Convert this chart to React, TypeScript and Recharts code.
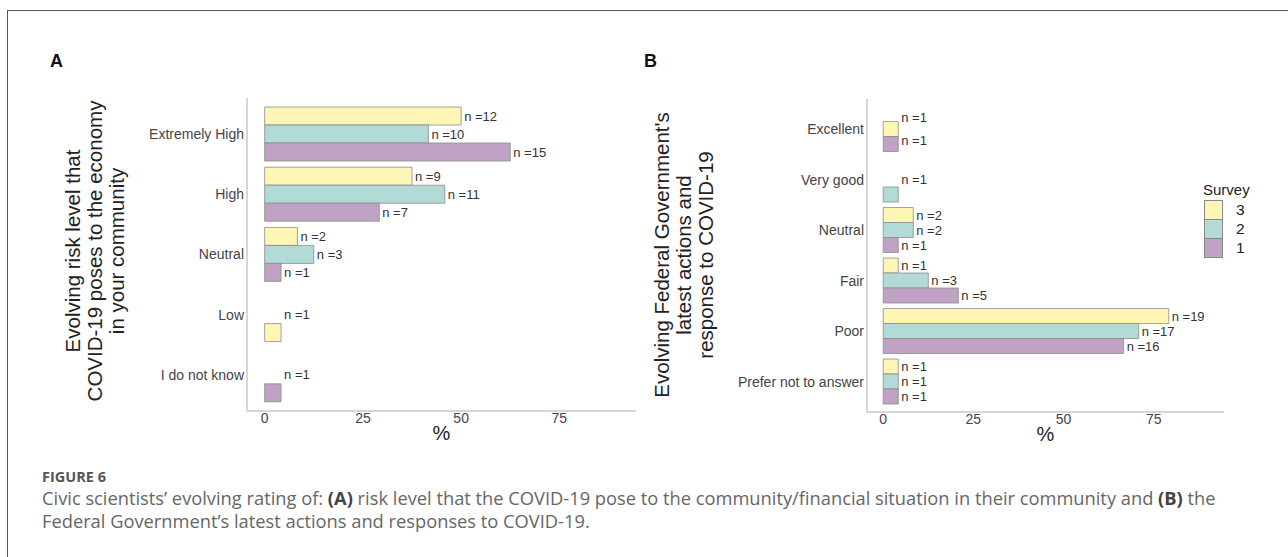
import React from 'react';
import { BarChart, Bar, Cell, XAxis, YAxis, LabelList } from 'recharts';

// ---------- data (counts per survey, null = no answer in that survey) ----------
const SURVEYS = [3, 2, 1];
const SURVEY_COLORS: Record<number, string> = { 3: '#FFF5B4', 2: '#B2DAD6', 1: '#C0A2C4' };
const SURVEY_TOTALS: Record<number, number> = { 3: 24, 2: 24, 1: 24 };

const RISK_CATS = ['Extremely High', 'High', 'Neutral', 'Low', 'I do not know'];
const RISK_S3 = [12, 9, 2, 1, null];
const RISK_S2 = [10, 11, 3, null, null];
const RISK_S1 = [15, 7, 1, null, 1];

const GOV_CATS = ['Excellent', 'Very good', 'Neutral', 'Fair', 'Poor', 'Prefer not to answer'];
const GOV_S3 = [1, null, 2, 1, 19, 1];
const GOV_S2 = [null, 1, 2, 3, 17, 1];
const GOV_S1 = [1, null, 1, 5, 16, 1];

const X_TICKS = [0, 25, 50, 75];
const X_DOMAIN = [-4.5, 94.5];

// ggplot dodge with preserve="single": present bars fill the slots from the bottom
const buildRows = (cats: string[], bySurvey: Record<number, (number | null)[]>) =>
  cats.map((name, i) => {
    const present = SURVEYS.filter((s) => bySurvey[s][i] != null);
    const k = present.length;
    const row: any = { name };
    for (let j = 0; j < 3; j++) {
      const idx = j - (3 - k);
      if (idx >= 0) {
        const s = present[idx];
        const n = bySurvey[s][i] as number;
        row[`v${j}`] = (n / SURVEY_TOTALS[s]) * 100;
        row[`c${j}`] = SURVEY_COLORS[s];
        row[`l${j}`] = { n, r: idx, k };
      } else {
        row[`v${j}`] = null;
        row[`l${j}`] = null;
      }
    }
    return row;
  });

const riskRows = buildRows(RISK_CATS, { 3: RISK_S3, 2: RISK_S2, 1: RISK_S1 });
const govRows = buildRows(GOV_CATS, { 3: GOV_S3, 2: GOV_S2, 1: GOV_S1 });

const FONT = '"Liberation Sans", Arial, sans-serif';
const AXIS_COLOR = '#c8c8c8';
const TEXT_COLOR = '#444';

// text labels are dodged over the bars that exist (ggplot geom_text + position_dodge)
const makeLabel = (slot: number) => (p: any) => {
  const info = p.value;
  if (info == null || typeof info !== 'object') return null;
  const vb = p.viewBox && p.viewBox.height != null ? p.viewBox : p;
  const h = vb.height;
  const catCenter = vb.y + h / 2 - (slot - 1) * h;
  const ly = catCenter + (info.r - (info.k - 1) / 2) * ((3 * h) / info.k);
  return (
    <text x={vb.x + vb.width + 3} y={ly} dy="0.35em" fontSize={13} fill="#333" fontFamily={FONT}>
      {`n =${info.n}`}
    </text>
  );
};

const Panel = ({ rows, width, height, margin, yWidth, pad }: any) => (
  <BarChart
    width={width}
    height={height}
    data={rows}
    layout="vertical"
    margin={margin}
    barCategoryGap="5%"
    barGap={0}
  >
    <XAxis
      type="number"
      domain={X_DOMAIN}
      ticks={X_TICKS}
      allowDataOverflow
      height={40}
      tickLine={false}
      tickSize={0}
      tickMargin={2}
      axisLine={{ stroke: AXIS_COLOR, strokeWidth: 1.5 }}
      tick={{ fill: TEXT_COLOR, fontSize: 14 }}
      label={{ value: '%', position: 'insideBottom', offset: 11, fontSize: 20, fill: '#222' }}
    />
    <YAxis
      type="category"
      dataKey="name"
      width={yWidth}
      interval={0}
      tickLine={false}
      tickSize={0}
      tickMargin={3}
      padding={{ top: pad, bottom: pad }}
      axisLine={{ stroke: AXIS_COLOR, strokeWidth: 1.5 }}
      tick={{ fill: TEXT_COLOR, fontSize: 14 }}
    />
    {[0, 1, 2].map((slot) => (
      <Bar
        key={slot}
        dataKey={`v${slot}`}
        isAnimationActive={false}
        stroke="#8c8c8c"
        strokeWidth={0.8}
      >
        {rows.map((r: any, i: number) => (
          <Cell key={i} fill={r[`c${slot}`] || 'none'} />
        ))}
        <LabelList dataKey={(r: any) => r[`l${slot}`]} content={makeLabel(slot)} />
      </Bar>
    ))}
  </BarChart>
);

const axisTitle = (lines: string[], cx: number, cy: number) => (
  <div
    style={{
      position: 'absolute',
      left: cx - 200,
      top: cy - 40,
      width: 400,
      height: 80,
      display: 'flex',
      flexDirection: 'column',
      justifyContent: 'center',
      alignItems: 'center',
      transform: 'rotate(-90deg)',
      fontSize: 20.5,
      lineHeight: '22px',
      color: '#222',
      whiteSpace: 'nowrap',
    }}
  >
    {lines.map((l) => (
      <div key={l}>{l}</div>
    ))}
  </div>
);

export default function App() {
  return (
    <div
      style={{
        position: 'absolute',
        left: 0,
        top: 0,
        width: 1288,
        height: 557,
        background: '#fff',
        fontFamily: FONT,
        overflow: 'hidden',
      }}
    >
      {/* frame */}
      <div
        style={{
          position: 'absolute',
          left: 7,
          top: 10,
          width: 1300,
          height: 560,
          borderTop: '1.5px solid #555',
          borderLeft: '1.5px solid #555',
        }}
      />

      <div style={{ position: 'absolute', left: 50, top: 51, fontSize: 18, fontWeight: 'bold', color: '#111' }}>A</div>
      <div style={{ position: 'absolute', left: 644, top: 51, fontSize: 18, fontWeight: 'bold', color: '#111' }}>B</div>

      <div style={{ position: 'absolute', left: 0, top: 0 }}>
        <Panel rows={riskRows} width={640} height={460} margin={{ top: 98, right: 4, bottom: 9, left: 117 }} yWidth={130} pad={6} />
      </div>
      <div style={{ position: 'absolute', left: 640, top: 0 }}>
        <Panel rows={govRows} width={648} height={460} margin={{ top: 99, right: 64, bottom: 8, left: 77 }} yWidth={150} pad={5} />
      </div>

      {axisTitle(['Evolving risk level that', 'COVID-19 poses to the economy', 'in your community'], 95, 251)}
      {axisTitle(["Evolving Federal Government's", 'latest actions and', 'response to COVID-19'], 684, 255)}

      {/* legend */}
      <div style={{ position: 'absolute', left: 1203, top: 180, color: '#222' }}>
        <div style={{ fontSize: 15, lineHeight: '20px' }}>Survey</div>
        {SURVEYS.map((s) => (
          <div key={s} style={{ display: 'flex', alignItems: 'center', height: 19.3 }}>
            <div
              style={{
                width: 17,
                height: 18,
                background: SURVEY_COLORS[s],
                border: '1px solid #888',
                marginLeft: 1,
                boxSizing: 'content-box',
              }}
            />
            <span style={{ marginLeft: 13, fontSize: 15.5 }}>{s}</span>
          </div>
        ))}
      </div>

      {/* caption */}
      <div
        style={{
          position: 'absolute',
          left: 42,
          top: 466,
          fontFamily: '"Open Sans", sans-serif',
          color: '#666',
          whiteSpace: 'nowrap',
        }}
      >
        <div style={{ fontSize: 14.5, fontWeight: 'bold', lineHeight: '22px', color: '#555' }}>FIGURE 6</div>
        <div style={{ fontSize: 18.3, lineHeight: '23px', marginTop: -2 }}>
          Civic scientists’ evolving rating of: <b style={{ color: '#444' }}>(A)</b> risk level that the COVID-19 pose to
          the community/financial situation in their community and <b style={{ color: '#444' }}>(B)</b> the
          <br />
          Federal Government’s latest actions and responses to COVID-19.
        </div>
      </div>
    </div>
  );
}
